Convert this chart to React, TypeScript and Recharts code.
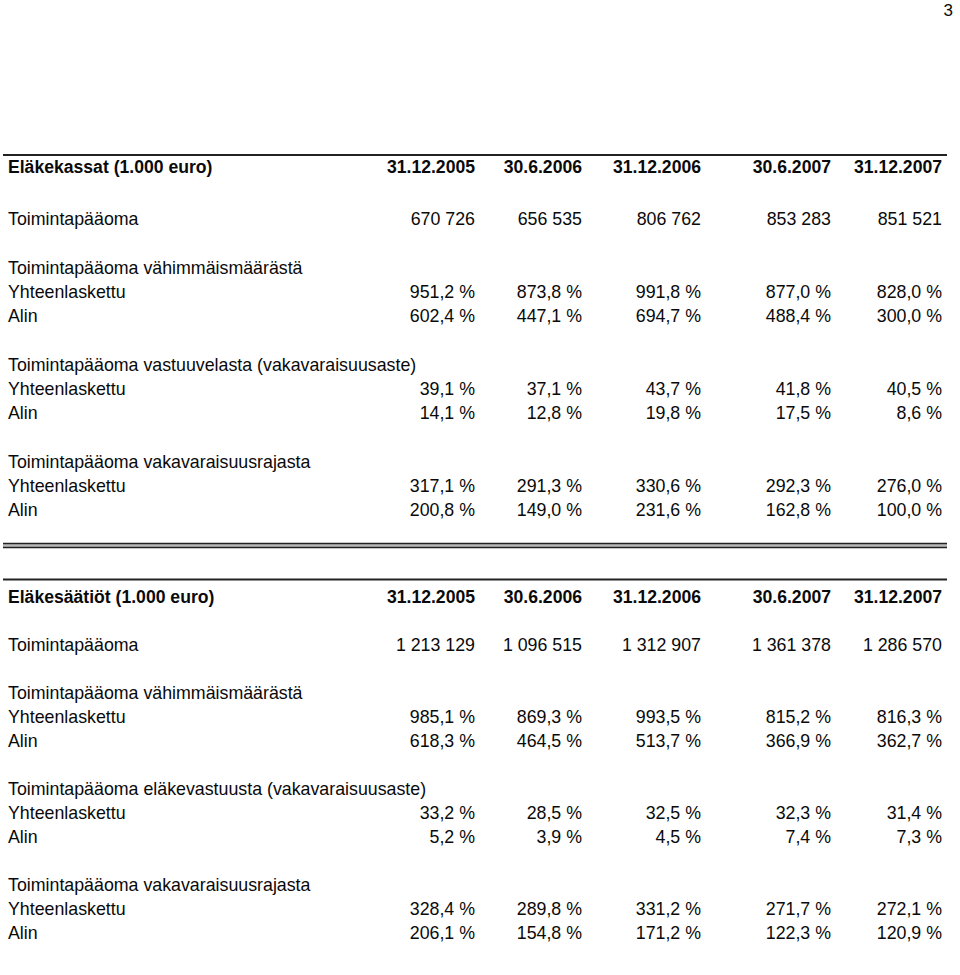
import React from "react";
import { Surface, Layer, Text } from "recharts";

// column headers
const DATES = ["31.12.2005", "30.6.2006", "31.12.2006", "30.6.2007", "31.12.2007"];

// Eläkekassat
const KASSAT_TITLE = "Eläkekassat (1.000 euro)";
const KASSAT_PAAOMA = ["670 726", "656 535", "806 762", "853 283", "851 521"];
const KASSAT_VAH_YHT = ["951,2 %", "873,8 %", "991,8 %", "877,0 %", "828,0 %"];
const KASSAT_VAH_ALIN = ["602,4 %", "447,1 %", "694,7 %", "488,4 %", "300,0 %"];
const KASSAT_VAST_YHT = ["39,1 %", "37,1 %", "43,7 %", "41,8 %", "40,5 %"];
const KASSAT_VAST_ALIN = ["14,1 %", "12,8 %", "19,8 %", "17,5 %", "8,6 %"];
const KASSAT_RAJA_YHT = ["317,1 %", "291,3 %", "330,6 %", "292,3 %", "276,0 %"];
const KASSAT_RAJA_ALIN = ["200,8 %", "149,0 %", "231,6 %", "162,8 %", "100,0 %"];

// Eläkesäätiöt
const SAATIOT_TITLE = "Eläkesäätiöt (1.000 euro)";
const SAATIOT_PAAOMA = ["1 213 129", "1 096 515", "1 312 907", "1 361 378", "1 286 570"];
const SAATIOT_VAH_YHT = ["985,1 %", "869,3 %", "993,5 %", "815,2 %", "816,3 %"];
const SAATIOT_VAH_ALIN = ["618,3 %", "464,5 %", "513,7 %", "366,9 %", "362,7 %"];
const SAATIOT_VAST_YHT = ["33,2 %", "28,5 %", "32,5 %", "32,3 %", "31,4 %"];
const SAATIOT_VAST_ALIN = ["5,2 %", "3,9 %", "4,5 %", "7,4 %", "7,3 %"];
const SAATIOT_RAJA_YHT = ["328,4 %", "289,8 %", "331,2 %", "271,7 %", "272,1 %"];
const SAATIOT_RAJA_ALIN = ["206,1 %", "154,8 %", "171,2 %", "122,3 %", "120,9 %"];

type Row = { slot: number; label: string; values?: string[] };

const kassatRows: Row[] = [
  { slot: 0, label: "Toimintapääoma", values: KASSAT_PAAOMA },
  { slot: 2, label: "Toimintapääoma vähimmäismäärästä" },
  { slot: 3, label: "Yhteenlaskettu", values: KASSAT_VAH_YHT },
  { slot: 4, label: "Alin", values: KASSAT_VAH_ALIN },
  { slot: 6, label: "Toimintapääoma vastuuvelasta (vakavaraisuusaste)" },
  { slot: 7, label: "Yhteenlaskettu", values: KASSAT_VAST_YHT },
  { slot: 8, label: "Alin", values: KASSAT_VAST_ALIN },
  { slot: 10, label: "Toimintapääoma vakavaraisuusrajasta" },
  { slot: 11, label: "Yhteenlaskettu", values: KASSAT_RAJA_YHT },
  { slot: 12, label: "Alin", values: KASSAT_RAJA_ALIN },
];

const saatiotRows: Row[] = [
  { slot: 0, label: "Toimintapääoma", values: SAATIOT_PAAOMA },
  { slot: 2, label: "Toimintapääoma vähimmäismäärästä" },
  { slot: 3, label: "Yhteenlaskettu", values: SAATIOT_VAH_YHT },
  { slot: 4, label: "Alin", values: SAATIOT_VAH_ALIN },
  { slot: 6, label: "Toimintapääoma eläkevastuusta (vakavaraisuusaste)" },
  { slot: 7, label: "Yhteenlaskettu", values: SAATIOT_VAST_YHT },
  { slot: 8, label: "Alin", values: SAATIOT_VAST_ALIN },
  { slot: 10, label: "Toimintapääoma vakavaraisuusrajasta" },
  { slot: 11, label: "Yhteenlaskettu", values: SAATIOT_RAJA_YHT },
  { slot: 12, label: "Alin", values: SAATIOT_RAJA_ALIN },
];

const W = 960;
const H = 975;
const FONT = "'Liberation Sans', Arial, Helvetica, sans-serif";
const FS = 17.8;
const FS_BOLD = 17.6;
const INK = "#0a0a0a";
const LEFT = 8;
const COL_RIGHT = [475, 582, 701, 831, 942];
const LINE_X1 = 3;
const LINE_X2 = 947;

function Table({ title, rows, lineY, headerY, bodyY, step }: {
  title: string; rows: Row[]; lineY: number; headerY: number; bodyY: number; step: number;
}) {
  return (
    <Layer>
      <line x1={LINE_X1} x2={LINE_X2} y1={lineY} y2={lineY} stroke="#222" strokeWidth={2} />
      <Text x={LEFT} y={headerY} verticalAnchor="middle" fontFamily={FONT} fontSize={FS_BOLD} fontWeight="bold" fill={INK}>
        {title}
      </Text>
      {DATES.map((d, i) => (
        <Text key={d} x={COL_RIGHT[i]} y={headerY} textAnchor="end" verticalAnchor="middle"
          fontFamily={FONT} fontSize={FS_BOLD} fontWeight="bold" fill={INK}>
          {d}
        </Text>
      ))}
      {rows.map((r) => {
        const y = bodyY + r.slot * step;
        return (
          <Layer key={r.slot}>
            <Text x={LEFT} y={y} verticalAnchor="middle" fontFamily={FONT} fontSize={FS} fill={INK}>
              {r.label}
            </Text>
            {(r.values || []).map((v, i) => (
              <Text key={i} x={COL_RIGHT[i]} y={y} textAnchor="end" verticalAnchor="middle"
                fontFamily={FONT} fontSize={FS} fill={INK}>
                {v}
              </Text>
            ))}
          </Layer>
        );
      })}
    </Layer>
  );
}

export default function App() {
  return (
    <div style={{ position: "absolute", left: 0, top: 0, width: W, height: H, background: "#fff" }}>
      <Surface width={W} height={H}>
        <rect x={0} y={0} width={W} height={H} fill="#fff" />
        <Text x={953} y={10} textAnchor="end" verticalAnchor="middle" fontFamily={FONT} fontSize={17} fill={INK}>
          3
        </Text>
        <Table title={KASSAT_TITLE} rows={kassatRows} lineY={155} headerY={167} bodyY={219} step={24.25} />
        {/* double rule between the tables */}
        <rect x={LINE_X1} y={543} width={LINE_X2 - LINE_X1} height={5} fill="#bbb" />
        <line x1={LINE_X1} x2={LINE_X2} y1={543.5} y2={543.5} stroke="#222" strokeWidth={1.5} />
        <line x1={LINE_X1} x2={LINE_X2} y1={547.5} y2={547.5} stroke="#222" strokeWidth={1.5} />
        <Table title={SAATIOT_TITLE} rows={saatiotRows} lineY={579.5} headerY={597} bodyY={645} step={24} />
      </Surface>
    </div>
  );
}
